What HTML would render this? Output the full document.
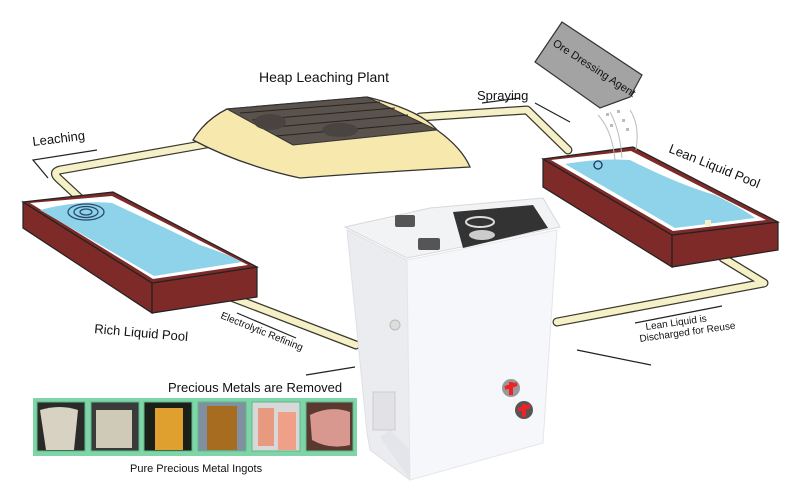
<!DOCTYPE html>
<html><head><meta charset="utf-8"><style>
html,body{margin:0;padding:0;background:#fff;}
svg{display:block;}
text{font-family:"Liberation Sans",sans-serif;fill:#111;}
</style></head><body>
<svg width="800" height="503" viewBox="0 0 800 503" xmlns="http://www.w3.org/2000/svg">
<rect width="800" height="503" fill="#fff"/>

<!-- pipes -->
<g fill="none" stroke-linecap="round" stroke-linejoin="round">
  <path d="M212,143 L60,170 Q52,172 58,178 L86,204" stroke="#3a3a2a" stroke-width="9"/>
  <path d="M212,143 L60,170 Q52,172 58,178 L86,204" stroke="#f6f0c8" stroke-width="6.5"/>
  <path d="M420,117 L527,110 L568,150" stroke="#3a3a2a" stroke-width="9"/>
  <path d="M420,117 L527,110 L568,150" stroke="#f6f0c8" stroke-width="6.5"/>
  <path d="M708,220 L723,258 L764,283 L557,322" stroke="#3a3a2a" stroke-width="9"/>
  <path d="M708,220 L723,258 L764,283 L557,322" stroke="#f6f0c8" stroke-width="6.5"/>
  <path d="M218,292 L356,345" stroke="#3a3a2a" stroke-width="9"/>
  <path d="M218,292 L356,345" stroke="#f6f0c8" stroke-width="6.5"/>
</g>

<!-- Heap leaching plant -->
<path d="M193,140 Q205,120 227,109 L367,97 Q420,110 437,130 Q462,148 470,167 Q380,172 300,178 Q240,165 193,140 Z" fill="#f7e8ad" stroke="#333" stroke-width="1.3"/>
<polygon points="227,109 367,97 437,130 293,145" fill="#5a524c" stroke="#333" stroke-width="1"/>
<g stroke="#2a2420" stroke-width="1">
<line x1="240" y1="113" x2="380" y2="102"/><line x1="252" y1="120" x2="395" y2="108"/>
<line x1="264" y1="128" x2="408" y2="115"/><line x1="276" y1="136" x2="422" y2="123"/>
</g>
<ellipse cx="270" cy="122" rx="16" ry="8" fill="#4a4440"/>
<ellipse cx="340" cy="130" rx="18" ry="7" fill="#4a4440"/>

<!-- Left pool -->
<polygon points="23,202 152,283 152,313 23,228" fill="#7d2a28" stroke="#222" stroke-width="1.2"/>
<polygon points="152,283 257,267 257,297 152,313" fill="#7d2a28" stroke="#222" stroke-width="1.2"/>
<polygon points="23,202 113,192 257,267 152,283" fill="#7d2a28" stroke="#222" stroke-width="1.2"/>
<polygon points="30,203 112,196 248,265 153,279" fill="#fff"/>
<path d="M40,210 Q80,200 112,203 Q170,230 200,245 Q230,255 242,262 L154,276 Z" fill="#8ed3ea"/>
<g fill="none" stroke="#2a4a6a" stroke-width="1.3">
<ellipse cx="86" cy="212" rx="6" ry="3"/><ellipse cx="86" cy="212" rx="12" ry="5.5"/><ellipse cx="86" cy="212" rx="18" ry="8"/>
</g>

<!-- Right pool -->
<polygon points="543,159 672,235 672,267 543,187" fill="#7d2a28" stroke="#222" stroke-width="1.2"/>
<polygon points="672,235 778,222 778,250 672,267" fill="#7d2a28" stroke="#222" stroke-width="1.2"/>
<polygon points="543,159 633,147 778,222 672,235" fill="#7d2a28" stroke="#222" stroke-width="1.2"/>
<polygon points="551,160 631,151 766,220 673,231" fill="#fff"/>
<path d="M565,164 Q600,158 630,160 Q680,185 715,195 Q745,210 755,218 L675,228 Z" fill="#8ed3ea"/>
<circle cx="598" cy="165" r="4" fill="none" stroke="#1a3a5a" stroke-width="1.3"/>
<path d="M708,220 L708,226" stroke="#f6f0c8" stroke-width="6"/>

<!-- ore dressing agent -->
<polygon points="562,22 642,75 630,97 600,108 535,62" fill="#a3a3a3" stroke="#333" stroke-width="1.2"/>
<text x="0" y="0" font-size="11" transform="translate(552,45) rotate(33)">Ore Dressing Agent</text>
<g fill="none" stroke="#bbb" stroke-width="1"><path d="M598,115 Q612,130 615,160"/><path d="M610,112 Q620,130 622,158"/><path d="M630,110 Q640,125 636,150"/></g>
<g fill="#bbb"><rect x="606" y="113" width="3" height="3"/><rect x="617" y="110" width="3" height="3"/><rect x="622" y="119" width="3" height="3"/><rect x="610" y="124" width="3" height="3"/><rect x="626" y="128" width="3" height="3"/></g>

<!-- Machine -->
<polygon points="347,230 407,260 410,480 370,450 367,433" fill="#ebecf0" stroke="#e0e0e4" stroke-width="1"/>
<polygon points="407,260 557,230 543,443 410,480" fill="#f6f7fa" stroke="#e6e6ea" stroke-width="1"/>
<polygon points="345,227 430,208 543,198 560,227 407,258" fill="#f2f3f5" stroke="#d8d8dc" stroke-width="1"/>
<polygon points="453,212 533,205 548,228 463,248" fill="#333"/>
<ellipse cx="480" cy="222" rx="14" ry="5" fill="none" stroke="#ddd" stroke-width="2"/>
<ellipse cx="482" cy="235" rx="13" ry="5" fill="#ccc"/>
<rect x="395" y="215" width="20" height="12" fill="#555" rx="2"/>
<rect x="418" y="238" width="22" height="12" fill="#555" rx="2"/>
<polygon points="380,437 410,480 410,450 390,430" fill="#e4e5ea"/>
<circle cx="395" cy="325" r="5" fill="#ddd" stroke="#bbb"/>
<rect x="373" y="392" width="22" height="38" fill="#e2e2e6" stroke="#ccc"/>
<circle cx="511" cy="388" r="9" fill="#999"/><path d="M505,388 L517,384 M511,382 L511,395" stroke="#e22" stroke-width="4"/>
<circle cx="524" cy="410" r="9" fill="#555"/><path d="M518,410 L530,406 M524,404 L524,417" stroke="#e22" stroke-width="4"/>

<!-- arrows -->
<g stroke="#222" stroke-width="1.2" fill="#222">
<path d="M97,150 L33,160 L48,178" fill="none"/>
<path d="M535,103 L570,122 M520,98 L482,103"/>
<line x1="237" y1="313" x2="296" y2="338"/>
<line x1="306" y1="375" x2="355" y2="367"/>
<line x1="635" y1="323" x2="722" y2="306"/>
<line x1="577" y1="350" x2="651" y2="365"/>
</g>

<!-- labels -->
<text x="259" y="82" font-size="14">Heap Leaching Plant</text>
<text x="477" y="100" font-size="13">Spraying</text>
<text x="0" y="0" font-size="13" transform="translate(33,146) rotate(-7)">Leaching</text>
<text x="0" y="0" font-size="13" transform="translate(668,152) rotate(22)">Lean Liquid Pool</text>
<text x="0" y="0" font-size="13" transform="translate(94,333) rotate(5)">Rich Liquid Pool</text>
<text x="0" y="0" font-size="10" transform="translate(220,318) rotate(22)">Electrolytic Refining</text>
<text x="0" y="0" font-size="10" transform="translate(646,330) rotate(-8)">Lean Liquid is</text>
<text x="0" y="0" font-size="10" transform="translate(640,342) rotate(-8)">Discharged for Reuse</text>
<text x="168" y="392" font-size="13">Precious Metals are Removed</text>
<text x="130" y="472" font-size="11">Pure Precious Metal Ingots</text>

<!-- ingots strip -->
<rect x="33" y="398" width="324" height="58" fill="#7fd4a8"/>
<g stroke="#5fb88a" stroke-width="1">
<rect x="37" y="402" width="48" height="49" fill="#2a2a28"/>
<rect x="91" y="402" width="48" height="49" fill="#3a3a3a"/>
<rect x="144" y="402" width="48" height="49" fill="#1a2018"/>
<rect x="198" y="402" width="48" height="49" fill="#8090a0"/>
<rect x="252" y="402" width="48" height="49" fill="#d8d8d8"/>
<rect x="306" y="402" width="47" height="49" fill="#5a3a30"/>
</g>
<path d="M40,410 Q60,404 78,410 L74,450 L46,450 Z" fill="#d8d2c2"/>
<rect x="96" y="410" width="36" height="38" fill="#cfcab8"/>
<rect x="155" y="408" width="28" height="42" fill="#e0a030"/>
<rect x="207" y="406" width="30" height="44" fill="#a86c20"/>
<rect x="258" y="408" width="16" height="38" fill="#e89a80"/><rect x="278" y="412" width="18" height="38" fill="#f0a088"/>
<path d="M310,415 Q330,405 350,412 L350,445 Q330,450 312,440 Z" fill="#d89890"/>
</svg>
</body></html>
